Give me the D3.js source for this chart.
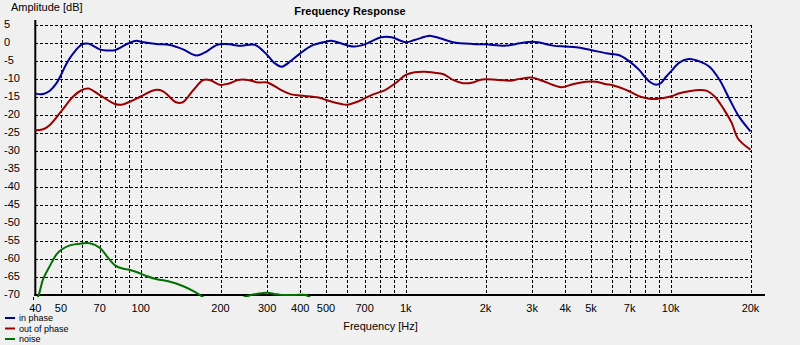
<!DOCTYPE html>
<html>
<head>
<meta charset="utf-8">
<script src="https://cdn.jsdelivr.net/npm/d3@7/dist/d3.min.js"></script>
<style>
  html, body { margin: 0; padding: 0; background: #f0f0f0; }
  svg { display: block; }
  text { font-family: "Liberation Sans", Arial, sans-serif; fill: #000; }
</style>
</head>
<body>
<svg id="chart" width="800" height="345"></svg>
<script>
// Measured response curves (frequency in Hz, level in dB)
const inPhaseHz = [40, 42.8, 45.4, 48.1, 50, 52.5, 55.6, 60, 63.5, 70, 74.3, 80, 90, 96.4, 100, 114.6, 128.8, 144.4, 162.4, 177, 193, 208, 217, 240, 269, 300, 321, 341, 370, 400, 440, 500, 524, 600, 640, 700, 808, 885, 1000, 1080, 1180, 1232, 1345, 1508, 1793, 2000, 2396, 2696, 3000, 3200, 3596, 4000, 4400, 5000, 5720, 6000, 6430, 7000, 7600, 8000, 8400, 8800, 9200, 9600, 10000, 10800, 11700, 12900, 14000, 15300, 16600, 18100, 20000];
const inPhaseDb = [-14.0, -14.1, -13.2, -11.1, -8.8, -5.6, -2.8, -0.3, -0.1, -1.7, -2.0, -1.9, 0.0, 0.7, 0.45, -0.2, -0.5, -1.7, -3.4, -2.3, -0.5, -0.2, -0.3, -0.7, -0.4, -3.25, -5.6, -6.5, -4.8, -2.8, -0.7, 0.45, 0.7, -0.55, -0.9, -0.3, 1.65, 1.65, 0.3, 0.9, 1.8, 2.1, 1.4, 0.3, -0.2, -0.3, -0.65, 0.0, 0.45, 0.2, -0.65, -0.9, -1.1, -1.85, -2.8, -3.0, -3.4, -5.1, -7.4, -9.4, -10.9, -11.5, -11.0, -9.3, -7.9, -5.3, -4.4, -5.1, -6.5, -10.2, -15.3, -20.4, -24.5];

const outPhaseHz = [40, 42.8, 45.4, 50, 55.6, 60, 63.5, 70, 80, 84.6, 90, 100, 113, 121, 136, 144, 158, 172, 182, 200, 208, 217, 233, 254, 278, 300, 339, 370, 400, 469, 500, 573, 600, 661, 742, 836, 914, 1000, 1080, 1180, 1270, 1390, 1508, 1645, 1793, 1900, 2000, 2260, 2470, 2696, 3000, 3296, 3596, 3864, 4270, 4785, 5224, 5720, 6000, 6430, 7000, 7640, 8320, 9000, 10000, 10800, 11870, 12900, 13700, 14650, 15780, 17000, 17900, 20000];
const outPhaseDb = [-24.2, -23.9, -22.7, -19.0, -14.8, -13.0, -12.6, -14.4, -16.9, -17.1, -16.4, -14.8, -13.0, -13.3, -16.4, -16.4, -13.0, -10.2, -10.2, -11.6, -11.4, -11.1, -10.2, -10.2, -10.9, -10.9, -13.0, -14.2, -14.55, -15.1, -15.75, -16.9, -17.1, -16.2, -14.4, -13.0, -11.1, -8.8, -8.05, -7.9, -8.15, -8.6, -10.2, -11.1, -10.9, -10.2, -10.0, -10.2, -10.4, -9.9, -9.55, -10.5, -11.6, -12.2, -11.4, -10.7, -10.7, -11.4, -11.6, -12.3, -13.4, -14.8, -15.4, -15.4, -14.8, -13.9, -13.25, -13.0, -13.25, -14.8, -18.1, -22.2, -26.4, -29.6];

const noiseHz = [40, 41.2, 42.8, 45.4, 48.1, 50, 54, 60, 64.2, 70, 75.2, 80, 86, 90, 96.4, 105, 115, 129, 144, 158, 167, 180, 200, 230, 255, 280, 300, 320, 340, 380, 420, 440, 480];
const noiseDb = [-72, -70, -65.6, -61.9, -58.7, -57.5, -56.2, -55.65, -55.6, -56.85, -59.6, -61.75, -62.7, -62.9, -63.6, -64.7, -65.6, -66.3, -67.5, -68.9, -70, -71.5, -72.5, -71.5, -70.2, -69.6, -69.4, -69.7, -70, -70, -70, -71, -74];

// Axis ticks and labels
const xLabelHz = [40, 50, 70, 100, 200, 300, 400, 500, 700, 1000, 2000, 3000, 4000, 5000, 7000, 10000, 20000];
const xLabelText = ["40", "50", "70", "100", "200", "300", "400", "500", "700", "1k", "2k", "3k", "4k", "5k", "7k", "10k", "20k"];
const xGridHz = [50, 60, 70, 80, 90, 100, 200, 300, 400, 500, 600, 700, 800, 900, 1000, 2000, 3000, 4000, 5000, 6000, 7000, 8000, 9000, 10000, 20000];
const yTicks = [5, 0, -5, -10, -15, -20, -25, -30, -35, -40, -45, -50, -55, -60, -65, -70];

const seriesNames = ["in phase", "out of phase", "noise"];
const seriesColors = ["#00009a", "#990000", "#007000"];

const svg = d3.select("#chart");

const x = d3.scaleLog().domain([40, 20000]).range([35.3, 750.5]);
const y = d3.scaleLinear().domain([-70, 5]).range([295, 25.3]);

// Title and axis captions
svg.append("text").attr("x", 350).attr("y", 15)
  .attr("text-anchor", "middle").style("font-size", "11px").style("font-weight", "bold")
  .text("Frequency Response");
svg.append("text").attr("x", 11).attr("y", 10.5)
  .style("font-size", "11px").text("Amplitude [dB]");
svg.append("text").attr("x", 380.5).attr("y", 329.5)
  .attr("text-anchor", "middle").style("font-size", "11px").text("Frequency [Hz]");

// Dashed grid
const grid = svg.append("g")
  .attr("stroke", "#000").attr("stroke-width", 1).attr("stroke-dasharray", "3,2")
  .attr("shape-rendering", "crispEdges");
grid.selectAll("line.h").data(yTicks.filter(d => d > -70)).join("line")
  .attr("class", "h")
  .attr("x1", x(40)).attr("x2", x(20000))
  .attr("y1", d => Math.round(y(d)) + 0.5).attr("y2", d => Math.round(y(d)) + 0.5);
grid.selectAll("line.v").data(xGridHz).join("line")
  .attr("class", "v")
  .attr("x1", d => Math.round(x(d)) + 0.5).attr("x2", d => Math.round(x(d)) + 0.5)
  .attr("y1", y(5)).attr("y2", y(-70));
// short dashed extension under the first frequency
svg.append("line")
  .attr("x1", 33.5).attr("x2", 33.5).attr("y1", 297).attr("y2", 316)
  .attr("stroke", "#000").attr("stroke-dasharray", "3,8").attr("shape-rendering", "crispEdges");

// Y tick labels
svg.append("g").selectAll("text").data(yTicks).join("text")
  .attr("x", 4).attr("y", d => y(d) + 2.5)
  .style("font-size", "11px")
  .text(d => d);

// X tick labels
svg.append("g").selectAll("text").data(xLabelHz).join("text")
  .attr("x", d => x(d)).attr("y", 312)
  .attr("text-anchor", "middle").style("font-size", "11px")
  .text((d, i) => xLabelText[i]);

// Axes lines
svg.append("line").attr("x1", 35.3).attr("x2", 35.3).attr("y1", 20).attr("y2", 296)
  .attr("stroke", "#000").attr("stroke-width", 2);
svg.append("line").attr("x1", 34.3).attr("x2", 765).attr("y1", 295).attr("y2", 295)
  .attr("stroke", "#000").attr("stroke-width", 2);

// Curves
svg.append("clipPath").attr("id", "plotClip")
  .append("rect").attr("x", 35).attr("y", 20).attr("width", 716).attr("height", 277);

const line = d3.line()
  .x(d => x(d[0])).y(d => y(d[1]))
  .curve(d3.curveCatmullRom.alpha(0.5));

const series = [
  d3.zip(inPhaseHz, inPhaseDb),
  d3.zip(outPhaseHz, outPhaseDb),
  d3.zip(noiseHz, noiseDb)
];

const curves = svg.append("g").attr("clip-path", "url(#plotClip)");
curves.selectAll("path").data(series).join("path")
  .attr("d", line)
  .attr("fill", "none")
  .attr("stroke", (d, i) => seriesColors[i])
  .attr("stroke-width", 2)
  .attr("stroke-linejoin", "round");

// Legend
const legend = svg.append("g");
const legendY = [318, 328.5, 339];
seriesNames.forEach((name, i) => {
  legend.append("line")
    .attr("x1", 5).attr("x2", 15).attr("y1", legendY[i]).attr("y2", legendY[i])
    .attr("stroke", seriesColors[i]).attr("stroke-width", 2);
  legend.append("text")
    .attr("x", 19).attr("y", legendY[i] + 3.3)
    .style("font-size", "9px")
    .text(name);
});
</script>
</body>
</html>
